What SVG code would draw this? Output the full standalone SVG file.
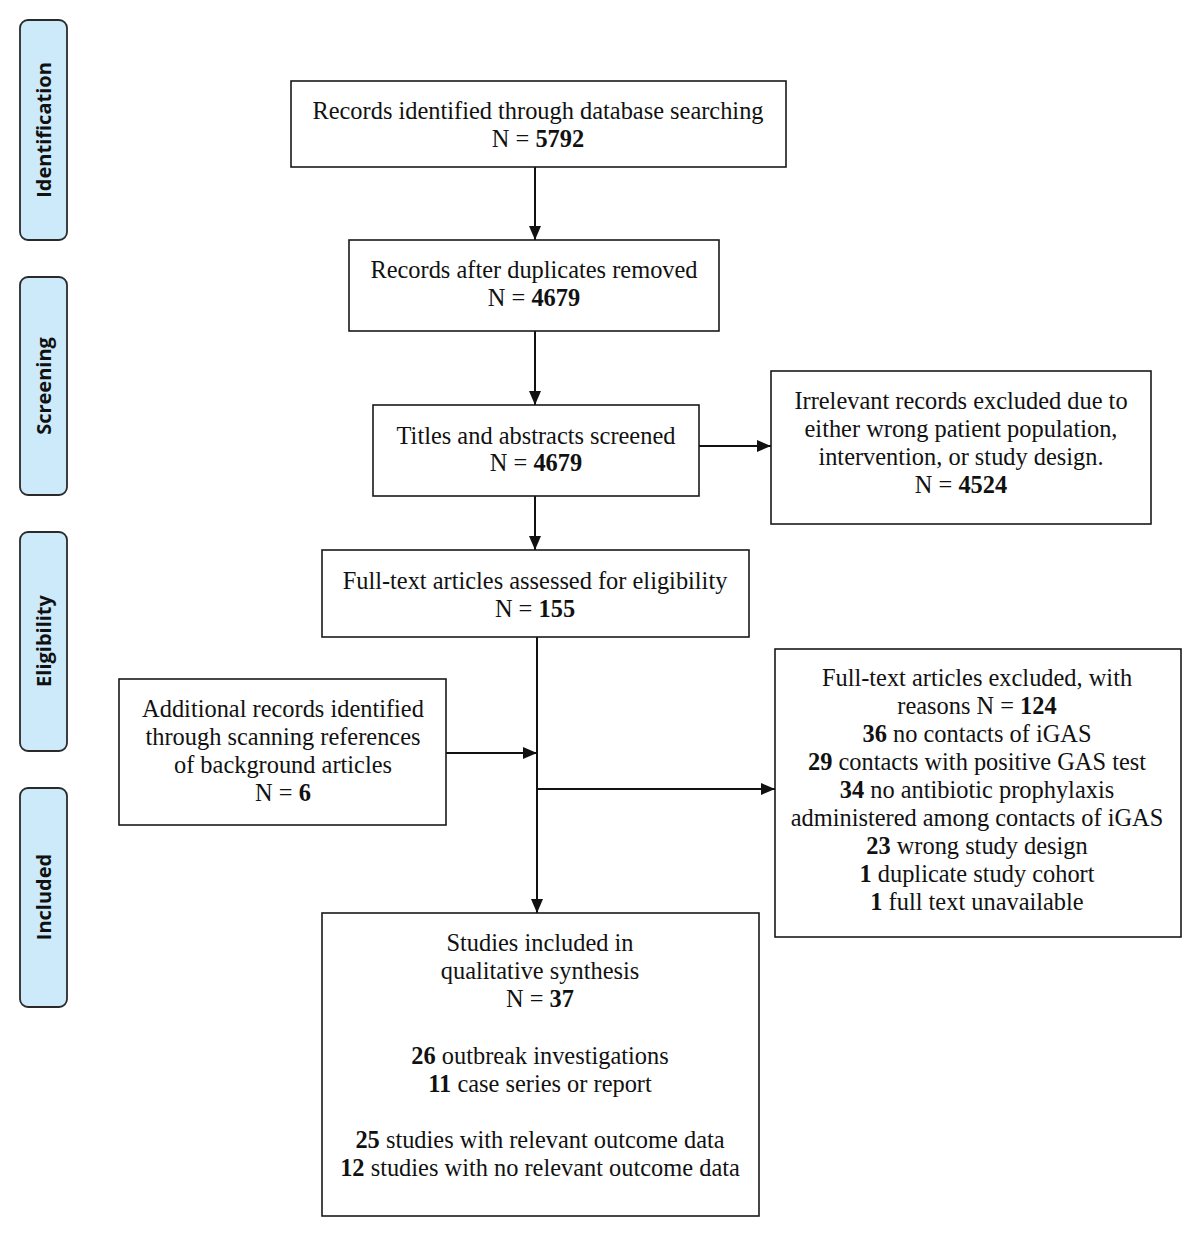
<svg xmlns="http://www.w3.org/2000/svg" width="1200" height="1237" viewBox="0 0 1200 1237">
<style>
.box{fill:#fff;stroke:#1a1a1a;stroke-width:1.6}
.side{fill:#cdeafa;stroke:#2a2a2a;stroke-width:1.8}
.t{font-family:"Liberation Serif","Times New Roman",serif;font-size:24.4px;fill:#111;text-anchor:middle}
.s{font-family:"Open Sans","DejaVu Sans",sans-serif;font-size:20px;font-weight:bold;fill:#111;text-anchor:middle}
.c{stroke:#111;stroke-width:2;fill:none}
.b{font-weight:bold}
</style>
<defs>
<marker id="ah2" viewBox="0 0 14 12" refX="14" refY="6" markerWidth="14" markerHeight="12" markerUnits="userSpaceOnUse" orient="auto">
<path d="M0,0 L14,6 L0,12 z" fill="#111"/>
</marker>
</defs>
<rect width="1200" height="1237" fill="#fff"/>

<g id="stage-identification"><rect class="side" x="20" y="20" width="47" height="220" rx="8"/><text class="s" transform="translate(51,130) rotate(-90)">Identification</text></g>
<g id="stage-screening"><rect class="side" x="20" y="277" width="47" height="218" rx="8"/><text class="s" transform="translate(51,386) rotate(-90)">Screening</text></g>
<g id="stage-eligibility"><rect class="side" x="20" y="532" width="47" height="219" rx="8"/><text class="s" transform="translate(51,641) rotate(-90)">Eligibility</text></g>
<g id="stage-included"><rect class="side" x="20" y="788" width="47" height="219" rx="8"/><text class="s" transform="translate(51,897) rotate(-90)">Included</text></g>

<g id="connectors">
<line class="c" x1="535" y1="167" x2="535" y2="240" marker-end="url(#ah2)"/>
<line class="c" x1="535" y1="331" x2="535" y2="405" marker-end="url(#ah2)"/>
<line class="c" x1="535" y1="496" x2="535" y2="550" marker-end="url(#ah2)"/>
<line class="c" x1="699" y1="446" x2="771" y2="446" marker-end="url(#ah2)"/>
<line class="c" x1="537" y1="637" x2="537" y2="913" marker-end="url(#ah2)"/>
<line class="c" x1="446" y1="753" x2="537" y2="753" marker-end="url(#ah2)"/>
<line class="c" x1="537" y1="789" x2="775" y2="789" marker-end="url(#ah2)"/>
</g>

<g id="n1"><rect class="box" x="291" y="81" width="495" height="86"/>
<text class="t" x="538" y="119">Records identified through database searching</text>
<text class="t" x="538" y="147">N = <tspan class="b">5792</tspan></text></g>

<g id="n2"><rect class="box" x="349" y="240" width="370" height="91"/>
<text class="t" x="534" y="278">Records after duplicates removed</text>
<text class="t" x="534" y="306">N = <tspan class="b">4679</tspan></text></g>

<g id="n3"><rect class="box" x="373" y="405" width="326" height="91"/>
<text class="t" x="536" y="444">Titles and abstracts screened</text>
<text class="t" x="536" y="471">N = <tspan class="b">4679</tspan></text></g>

<g id="n4"><rect class="box" x="771" y="371" width="380" height="153"/>
<text class="t" x="961" y="409">Irrelevant records excluded due to</text>
<text class="t" x="961" y="437">either wrong patient population,</text>
<text class="t" x="961" y="465">intervention, or study design.</text>
<text class="t" x="961" y="493">N = <tspan class="b">4524</tspan></text></g>

<g id="n5"><rect class="box" x="322" y="550" width="427" height="87"/>
<text class="t" x="535" y="589">Full-text articles assessed for eligibility</text>
<text class="t" x="535" y="617">N = <tspan class="b">155</tspan></text></g>

<g id="n6"><rect class="box" x="119" y="679" width="327" height="146"/>
<text class="t" x="283" y="717">Additional records identified</text>
<text class="t" x="283" y="745">through scanning references</text>
<text class="t" x="283" y="773">of background articles</text>
<text class="t" x="283" y="801">N = <tspan class="b">6</tspan></text></g>

<g id="n7"><rect class="box" x="775" y="649" width="406" height="288"/>
<text class="t" x="977" y="686">Full-text articles excluded, with</text>
<text class="t" x="977" y="714">reasons N = <tspan class="b">124</tspan></text>
<text class="t" x="977" y="742"><tspan class="b">36</tspan> no contacts of iGAS</text>
<text class="t" x="977" y="770"><tspan class="b">29</tspan> contacts with positive GAS test</text>
<text class="t" x="977" y="798"><tspan class="b">34</tspan> no antibiotic prophylaxis</text>
<text class="t" x="977" y="826">administered among contacts of iGAS</text>
<text class="t" x="977" y="854"><tspan class="b">23</tspan> wrong study design</text>
<text class="t" x="977" y="882"><tspan class="b">1</tspan> duplicate study cohort</text>
<text class="t" x="977" y="910"><tspan class="b">1</tspan> full text unavailable</text></g>

<g id="n8"><rect class="box" x="322" y="913" width="437" height="303"/>
<text class="t" x="540" y="951">Studies included in</text>
<text class="t" x="540" y="979">qualitative synthesis</text>
<text class="t" x="540" y="1007">N = <tspan class="b">37</tspan></text>
<text class="t" x="540" y="1064"><tspan class="b">26</tspan> outbreak investigations</text>
<text class="t" x="540" y="1092"><tspan class="b">11</tspan> case series or report</text>
<text class="t" x="540" y="1148"><tspan class="b">25</tspan> studies with relevant outcome data</text>
<text class="t" x="540" y="1176"><tspan class="b">12</tspan> studies with no relevant outcome data</text></g>
</svg>
